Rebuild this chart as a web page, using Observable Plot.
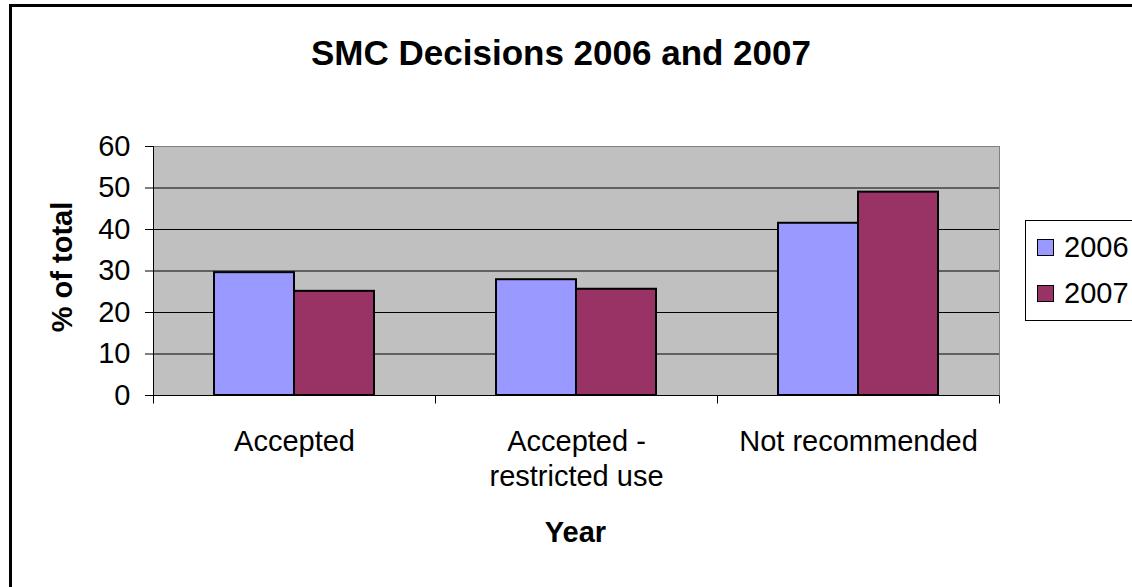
<!DOCTYPE html>
<html>
<head>
<meta charset="utf-8">
<script src="https://cdn.jsdelivr.net/npm/d3@7"></script>
<script src="https://cdn.jsdelivr.net/npm/@observablehq/plot@0.6"></script>
<style>
  html, body { margin: 0; padding: 0; background: #fff; }
  body { width: 1132px; height: 587px; overflow: hidden; position: relative;
         font-family: "Liberation Sans", Arial, sans-serif; color: #000; }
  #border { position: absolute; left: 9px; top: 4px; width: 1300px; height: 800px;
            border: 3px solid #000; box-sizing: border-box; }
  #chart { position: absolute; left: 0; top: 0; }
  #title { position: absolute; left: 0; width: 1122px; top: 35px; text-align: center;
           font-size: 35px; font-weight: bold; line-height: 1; white-space: nowrap; }
  #ylabel { position: absolute; left: 62px; top: 267px; transform: translate(-50%, -50%) rotate(-90deg);
            font-size: 29px; font-weight: bold; line-height: 1; white-space: nowrap; }
  #xlabel { position: absolute; left: 152px; width: 847px; top: 518px; text-align: center;
            font-size: 29px; font-weight: bold; line-height: 1; }
  #legend { position: absolute; left: 1025px; top: 220px; width: 200px; height: 101px;
            border: 1px solid #000; box-sizing: border-box; padding-top: 3px; background: #fff; }
  .item { display: flex; align-items: center; height: 46px; font-size: 29px; line-height: 46px; }
  .swatch { width: 17px; height: 17px; margin-left: 11px; margin-right: 10px;
            border: 1.5px solid #000; box-sizing: border-box; }
</style>
</head>
<body>
<div id="border"></div>
<div id="chart"></div>
<div id="title"></div>
<div id="ylabel"></div>
<div id="xlabel"></div>
<div id="legend"></div>
<script>
// SMC decisions by outcome, share of total (%)
const categories = ["Accepted", "Accepted -\nrestricted use", "Not recommended"];
const years = ["2006", "2007"];
const values2006 = [29.6, 27.9, 41.5];
const values2007 = [25.1, 25.6, 49.0];
const yTicks = [0, 10, 20, 30, 40, 50, 60];
const yearColors = ["#9999ff", "#993366"];

const titleText = "SMC Decisions 2006 and 2007";
const yLabelText = "% of total";
const xLabelText = "Year";

const rows = [];
categories.forEach((category, i) => {
  rows.push({category, year: years[0], value: values2006[i]});
  rows.push({category, year: years[1], value: values2007[i]});
});

// short downward tick drawn at the category boundaries
const boundaryTick = {draw(context) { context.moveTo(0, 0); context.lineTo(0, 8); }};

const chart = Plot.plot({
  width: 1132,
  height: 587,
  marginLeft: 152,
  marginRight: 133,
  marginTop: 146,
  marginBottom: 192,
  style: {fontFamily: "'Liberation Sans', Arial, sans-serif", fontSize: "29px", color: "#000", background: "transparent", overflow: "visible"},
  fx: {domain: categories, padding: 0, label: null},
  x: {domain: years, paddingInner: 0, paddingOuter: 0.75, axis: null},
  y: {domain: [yTicks[0], yTicks[yTicks.length - 1]], label: null},
  color: {domain: years, range: yearColors},
  marks: [
    Plot.frame({fill: "#c0c0c0", stroke: "none", shapeRendering: "crispEdges"}),
    Plot.ruleY(yTicks.slice(1, -1), {stroke: "#000", strokeWidth: 1}),
    Plot.ruleY(yTicks.slice(-1), {stroke: "#808080", strokeWidth: 1}),
    Plot.frame({anchor: "right", facetAnchor: "right", stroke: "#808080"}),
    Plot.barY(rows, {fx: "category", x: "year", y: "value", fill: "year", stroke: "#000", strokeWidth: 2}),
    Plot.ruleY([0], {stroke: "#000", strokeWidth: 1}),
    Plot.frame({anchor: "left", facetAnchor: "left", stroke: "#000"}),
    Plot.dot(categories, {fx: d => d, frameAnchor: "bottom-left", symbol: boundaryTick, stroke: "#000", strokeWidth: 1}),
    Plot.dot(categories.slice(-1), {fx: d => d, frameAnchor: "bottom-right", symbol: boundaryTick, stroke: "#000", strokeWidth: 1}),
    Plot.axisY({ticks: yTicks, tickSize: 8, tickPadding: 15, label: null}),
    Plot.axisFx({anchor: "bottom", tickSize: 0, tickPadding: 31, label: null, lineHeight: 1.2})
  ]
});
document.getElementById("chart").appendChild(chart);

document.getElementById("title").textContent = titleText;
document.getElementById("ylabel").textContent = yLabelText;
document.getElementById("xlabel").textContent = xLabelText;

const legend = document.getElementById("legend");
years.forEach((year, i) => {
  const item = document.createElement("div");
  item.className = "item";
  const sw = document.createElement("div");
  sw.className = "swatch";
  sw.style.background = yearColors[i];
  const label = document.createElement("span");
  label.textContent = year;
  item.appendChild(sw);
  item.appendChild(label);
  legend.appendChild(item);
});
</script>
</body>
</html>
